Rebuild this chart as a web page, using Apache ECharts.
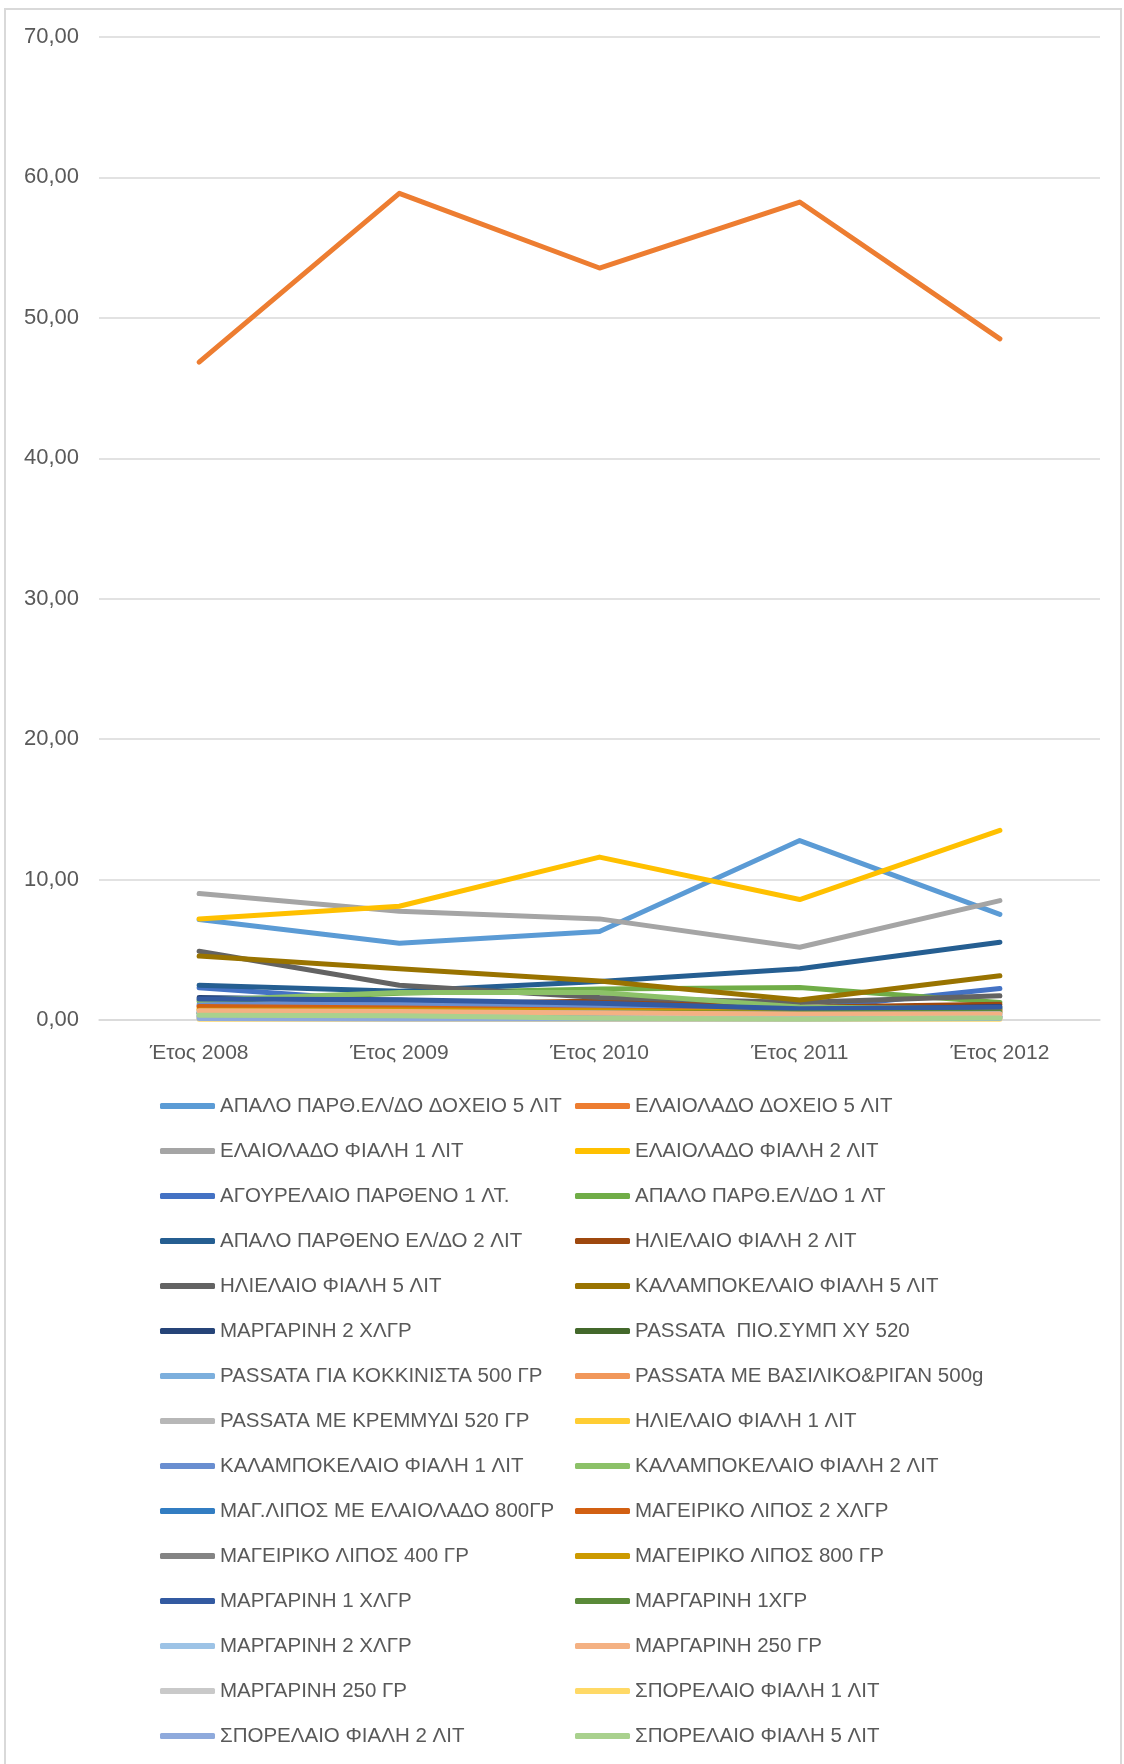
<!DOCTYPE html>
<html>
<head>
<meta charset="utf-8">
<script src="https://cdn.jsdelivr.net/npm/echarts@6/dist/echarts.min.js"></script>
<style>
html, body { margin: 0; padding: 0; background: #fff; }
#chart { width: 1124px; height: 1764px; }
</style>
</head>
<body>
<div id="chart"></div>
<script>
// κατηγορίες (έτη)
var years = ['Έτος 2008', 'Έτος 2009', 'Έτος 2010', 'Έτος 2011', 'Έτος 2012'];

// ονόματα σειρών (με τη σειρά του υπομνήματος)
var names = [
    'ΑΠΑΛΟ ΠΑΡΘ.ΕΛ/ΔΟ ΔΟΧΕΙΟ 5 ΛΙΤ',
    'ΕΛΑΙΟΛΑΔΟ ΔΟΧΕΙΟ 5 ΛΙΤ',
    'ΕΛΑΙΟΛΑΔΟ ΦΙΑΛΗ 1 ΛΙΤ',
    'ΕΛΑΙΟΛΑΔΟ ΦΙΑΛΗ 2 ΛΙΤ',
    'ΑΓΟΥΡΕΛΑΙΟ ΠΑΡΘΕΝΟ 1 ΛΤ.',
    'ΑΠΑΛΟ ΠΑΡΘ.ΕΛ/ΔΟ 1 ΛΤ',
    'ΑΠΑΛΟ ΠΑΡΘΕΝΟ ΕΛ/ΔΟ 2 ΛΙΤ',
    'ΗΛΙΕΛΑΙΟ ΦΙΑΛΗ 2 ΛΙΤ',
    'ΗΛΙΕΛΑΙΟ ΦΙΑΛΗ 5 ΛΙΤ',
    'ΚΑΛΑΜΠΟΚΕΛΑΙΟ ΦΙΑΛΗ 5 ΛΙΤ',
    'ΜΑΡΓΑΡΙΝΗ 2 ΧΛΓΡ',
    'PASSATA  ΠΙΟ.ΣΥΜΠ ΧΥ 520',
    'PASSATA ΓΙΑ ΚΟΚΚΙΝΙΣΤΑ 500 ΓΡ',
    'PASSATA ΜΕ ΒΑΣΙΛΙΚΟ&ΡΙΓΑΝ 500g',
    'PASSATA ΜΕ ΚΡΕΜΜΥΔΙ 520 ΓΡ',
    'ΗΛΙΕΛΑΙΟ ΦΙΑΛΗ 1 ΛΙΤ',
    'ΚΑΛΑΜΠΟΚΕΛΑΙΟ ΦΙΑΛΗ 1 ΛΙΤ',
    'ΚΑΛΑΜΠΟΚΕΛΑΙΟ ΦΙΑΛΗ 2 ΛΙΤ',
    'ΜΑΓ.ΛΙΠΟΣ ΜΕ ΕΛΑΙΟΛΑΔΟ 800ΓΡ',
    'ΜΑΓΕΙΡΙΚΟ ΛΙΠΟΣ 2 ΧΛΓΡ',
    'ΜΑΓΕΙΡΙΚΟ ΛΙΠΟΣ 400 ΓΡ',
    'ΜΑΓΕΙΡΙΚΟ ΛΙΠΟΣ 800 ΓΡ',
    'ΜΑΡΓΑΡΙΝΗ 1 ΧΛΓΡ',
    'ΜΑΡΓΑΡΙΝΗ 1ΧΓΡ',
    'ΜΑΡΓΑΡΙΝΗ 2 ΧΛΓΡ',
    'ΜΑΡΓΑΡΙΝΗ 250 ΓΡ',
    'ΜΑΡΓΑΡΙΝΗ 250 ΓΡ',
    'ΣΠΟΡΕΛΑΙΟ ΦΙΑΛΗ 1 ΛΙΤ',
    'ΣΠΟΡΕΛΑΙΟ ΦΙΑΛΗ 2 ΛΙΤ',
    'ΣΠΟΡΕΛΑΙΟ ΦΙΑΛΗ 5 ΛΙΤ'
];

// τιμές ανά σειρά (2008..2012)
var values = [
    [7.15, 5.47, 6.30, 12.78, 7.52],
    [46.85, 58.87, 53.55, 58.25, 48.50],
    [9.00, 7.75, 7.20, 5.18, 8.50],
    [7.20, 8.10, 11.60, 8.58, 13.50],
    [2.30, 1.30, 0.90, 0.75, 2.25],
    [1.30, 1.90, 2.20, 2.32, 1.25],
    [2.48, 2.05, 2.75, 3.65, 5.54],
    [1.00, 1.10, 1.36, 0.90, 1.12],
    [4.90, 2.48, 1.60, 1.25, 1.72],
    [4.55, 3.65, 2.78, 1.42, 3.15],
    [1.60, 1.40, 1.05, 0.70, 0.96],
    [0.50, 0.60, 0.80, 0.60, 0.80],
    [0.60, 0.50, 0.40, 0.30, 0.40],
    [0.78, 0.75, 0.55, 0.45, 0.50],
    [0.40, 0.35, 0.30, 0.25, 0.30],
    [0.85, 0.40, 0.30, 0.20, 0.20],
    [1.10, 1.12, 0.95, 0.80, 0.70],
    [1.40, 1.95, 1.96, 0.92, 0.78],
    [0.30, 0.25, 0.20, 0.20, 0.25],
    [0.96, 0.85, 0.70, 0.60, 0.65],
    [0.20, 0.20, 0.15, 0.15, 0.20],
    [0.70, 0.72, 0.65, 0.55, 0.60],
    [1.50, 1.45, 1.20, 0.80, 0.90],
    [0.45, 0.50, 0.50, 0.50, 0.55],
    [0.57, 0.55, 0.50, 0.40, 0.45],
    [0.65, 0.60, 0.50, 0.42, 0.42],
    [0.15, 0.15, 0.12, 0.10, 0.12],
    [0.05, 0.05, 0.05, 0.05, 0.05],
    [0.10, 0.08, 0.08, 0.08, 0.10],
    [0.34, 0.30, 0.12, 0.08, 0.15]
];

var colors = [
    '#5B9BD5', '#ED7D31', '#A5A5A5', '#FFC000', '#4472C4', '#70AD47',
    '#255E91', '#9E480E', '#636363', '#997300', '#264478', '#43682B',
    '#7CAFDD', '#F1975A', '#B7B7B7', '#FFCD33', '#698ED0', '#8CC168',
    '#327DC2', '#D26012', '#848484', '#CC9A00', '#335AA1', '#5A8A39',
    '#9DC3E6', '#F4B183', '#C9C9C9', '#FFD966', '#8FAADC', '#A9D18E'
];

var chart = echarts.init(document.getElementById('chart'));

// ίδια ονόματα εμφανίζονται δύο φορές: κάνε τα μοναδικά με αόρατο χαρακτήρα
var seen = {};
var seriesNames = names.map(function (n) {
    var k = n;
    while (seen[k]) { k = k + '\u200b'; }
    seen[k] = true;
    return k;
});

var series = seriesNames.map(function (n, i) {
    return {
        name: n,
        type: 'line',
        data: values[i],
        symbol: 'none',
        color: colors[i],
        lineStyle: { width: 5, color: colors[i], cap: 'round', join: 'round' },
        emphasis: { disabled: true }
    };
});

var option = {
    animation: false,
    textStyle: { fontFamily: 'Liberation Sans' },
    grid: { left: 99, right: 24, top: 37, bottom: 744, containLabel: false },
    graphic: [{
        type: 'rect',
        shape: { x: 5, y: 9, width: 1116, height: 1800 },
        style: { fill: 'none', stroke: '#d9d9d9', lineWidth: 2 },
        silent: true
    }],
    xAxis: {
        type: 'category',
        data: years,
        boundaryGap: true,
        axisLine: { lineStyle: { color: '#d9d9d9', width: 1.5 } },
        axisTick: { show: false },
        axisLabel: { color: '#595959', fontSize: 21, margin: 23, fontFamily: 'Liberation Sans' }
    },
    yAxis: {
        type: 'value',
        min: 0,
        max: 70,
        interval: 10,
        axisLine: { show: false },
        axisTick: { show: false },
        splitLine: { lineStyle: { color: '#d9d9d9', width: 1.5 } },
        axisLabel: {
            color: '#595959',
            fontSize: 22,
            margin: 20,
            fontFamily: 'Liberation Sans',
            formatter: function (v) { return v.toFixed(2).replace('.', ','); }
        }
    },
    legend: {
        orient: 'horizontal',
        left: 160,
        top: 1086,
        width: 830,
        padding: 0,
        itemGap: 5,
        itemWidth: 55,
        itemHeight: 6,
        icon: 'roundRect',
        selectedMode: false,
        data: seriesNames,
        formatter: function (n) { return n.replace(/\u200b/g, ''); },
        textStyle: {
            color: '#595959',
            fontSize: 20.5,
            fontFamily: 'Liberation Sans',
            width: 350,
            lineHeight: 40,
            overflow: 'none'
        }
    },
    series: series
};

option && chart.setOption(option);
</script>
</body>
</html>
